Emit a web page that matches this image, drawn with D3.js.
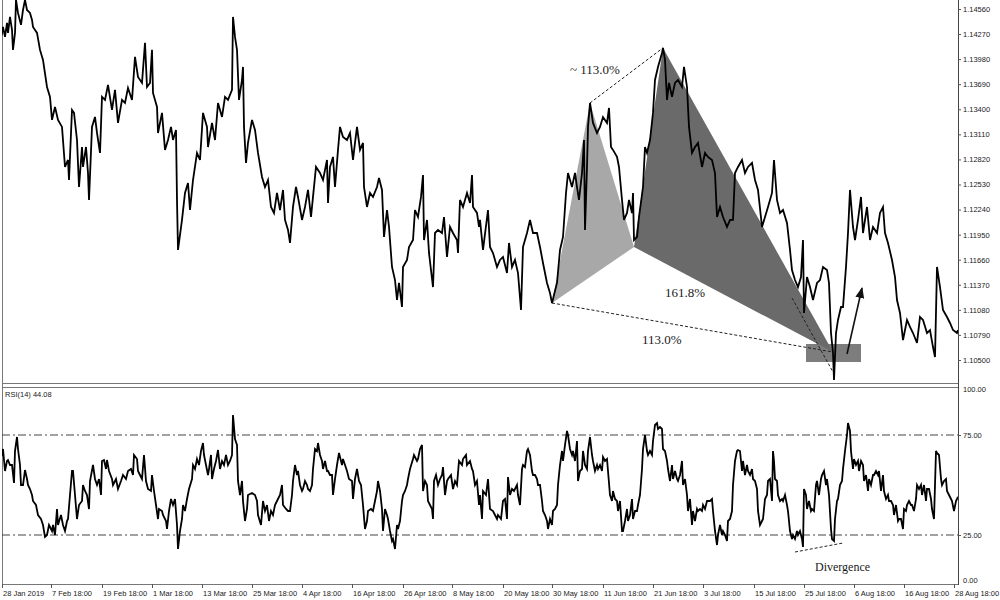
<!DOCTYPE html>
<html><head><meta charset="utf-8">
<script src="https://cdn.jsdelivr.net/npm/d3@7"></script>
<style>
body{margin:0;background:#fff;}
svg{display:block;}
.ax text{font-family:"Liberation Sans",Arial,sans-serif;font-size:7.5px;fill:#1a1a1a;}
.ax line{stroke:#555;}
.ann{font-family:"Liberation Serif","Times New Roman",serif;fill:#1a1a1a;}
</style></head><body>
<svg id="c" width="1000" height="600"></svg>
<script>
// ---------- DATA ----------
const timeTicks = [2,51,102,152,202,252,302,352,403,452,503,552,603,653,703,754,804,854,904,954];
const timeLabels = ["28 Jan 2019","7 Feb 18:00","19 Feb 18:00","1 Mar 18:00","13 Mar 18:00","25 Mar 18:00","4 Apr 18:00","16 Apr 18:00","26 Apr 18:00","8 May 18:00","20 May 18:00","30 May 18:00","11 Jun 18:00","21 Jun 18:00","3 Jul 18:00","15 Jul 18:00","25 Jul 18:00","6 Aug 18:00","16 Aug 18:00","28 Aug 18:00"];
const priceTicks = [1.14560,1.14270,1.13980,1.13690,1.13400,1.13110,1.12820,1.12530,1.12240,1.11950,1.11660,1.11370,1.11080,1.10790,1.10500];
const rsiTicks = [100,75,25,0];
const rsiLevels = [75,25];
const rsiName = "RSI(14) 44.08";

// price series: [time index, close]
const priceSeries = [[0,1.14202],[2,1.14283],[3,1.14353],[5,1.14237],[7,1.14399],[8,1.14283],[10,1.14468],[12,1.14318],[13,1.14087],[15,1.14283],[16,1.14665],[18,1.14515],[21,1.14376],[23,1.14549],[25,1.14665],[27,1.14549],[30,1.14515],[32,1.14434],[33,1.14353],[37,1.14283],[40,1.14087],[43,1.13971],[47,1.13658],[50,1.13543],[52,1.13277],[55,1.13427],[58,1.13277],[62,1.13196],[65,1.12733],[68,1.12814],[69,1.12582],[72,1.13392],[74,1.13358],[77,1.13045],[79,1.12501],[82,1.12964],[83,1.12733],[86,1.12964],[88,1.12663],[89,1.12351],[92,1.13196],[95,1.13311],[97,1.13126],[100,1.12895],[102,1.13543],[105,1.13508],[108,1.13682],[112,1.13392],[115,1.13624],[118,1.13242],[122,1.13508],[125,1.13473],[128,1.13647],[132,1.13508],[135,1.14006],[138,1.13774],[142,1.13705],[145,1.14168],[147,1.13658],[150,1.13705],[152,1.14087],[153,1.13589],[157,1.13427],[158,1.13126],[162,1.13358],[165,1.12930],[168,1.13045],[171,1.13196],[173,1.13045],[176,1.13161],[177,1.12351],[178,1.11773],[182,1.12120],[185,1.12432],[188,1.12548],[190,1.12235],[193,1.12582],[197,1.12895],[200,1.12814],[203,1.13358],[207,1.13196],[208,1.12964],[212,1.13242],[215,1.13045],[218,1.13473],[222,1.13311],[225,1.13543],[228,1.13508],[232,1.13624],[233,1.14468],[235,1.14237],[237,1.14087],[239,1.13508],[242,1.13739],[243,1.13890],[244,1.13196],[246,1.12779],[248,1.13011],[252,1.13277],[255,1.13161],[258,1.12895],[262,1.12617],[265,1.12501],[268,1.12582],[271,1.12270],[274,1.12201],[277,1.12432],[280,1.12235],[283,1.12467],[285,1.12120],[288,1.12004],[290,1.11854],[293,1.12270],[296,1.12501],[298,1.12386],[302,1.12120],[305,1.12270],[308,1.12467],[311,1.12154],[313,1.12386],[316,1.12733],[320,1.12663],[323,1.12582],[327,1.12814],[328,1.12316],[330,1.12733],[333,1.12849],[335,1.12501],[338,1.12930],[340,1.13196],[343,1.13080],[347,1.13045],[350,1.13126],[353,1.12814],[355,1.13011],[357,1.13196],[360,1.12930],[363,1.13011],[364,1.12501],[367,1.12270],[370,1.12432],[373,1.12386],[377,1.12501],[379,1.12606],[382,1.12467],[384,1.11923],[387,1.12235],[389,1.12039],[392,1.11576],[395,1.11425],[397,1.11194],[399,1.11391],[402,1.11113],[403,1.11576],[407,1.11657],[409,1.11807],[413,1.11888],[415,1.12235],[418,1.12154],[421,1.12386],[423,1.12640],[424,1.11888],[427,1.12120],[429,1.11738],[433,1.11344],[435,1.11969],[438,1.12004],[442,1.11969],[444,1.12154],[447,1.11692],[450,1.12039],[453,1.11969],[457,1.11888],[458,1.11738],[460,1.12351],[463,1.12270],[467,1.12432],[470,1.12316],[472,1.12640],[473,1.12270],[477,1.12201],[479,1.12039],
[480,1.12120],[483,1.11773],[488,1.12235],[490,1.11807],[493,1.11738],[497,1.11576],[500,1.11657],[503,1.11692],[507,1.11506],[509,1.11854],[512,1.11576],[515,1.11657],[518,1.11506],[521,1.11078],[523,1.11807],[527,1.11969],[530,1.12120],[533,1.11969],[537,1.11969],[540,1.11807],[543,1.11622],[547,1.11391],[550,1.11275],[552,1.11159],[557,1.11391],[560,1.11773],[563,1.11923],[566,1.12432],[568,1.12663],[572,1.12501],[575,1.12663],[577,1.12501],[579,1.12351],[582,1.12663],[584,1.13045],[585,1.12004],[587,1.12733],[588,1.13196],[590,1.13473],[593,1.13242],[597,1.13126],[600,1.13196],[603,1.13311],[607,1.13242],[609,1.13415],[611,1.12964],[613,1.12930],[617,1.12849],[619,1.12733],[622,1.12351],[624,1.12120],[627,1.12201],[629,1.12351],[632,1.12201],[633,1.12432],[634,1.11888],[637,1.11923],[639,1.12154],[643,1.12501],[645,1.12964],[647,1.12895],[650,1.13045],[653,1.13358],[655,1.13739],[658,1.13890],[662,1.14052],[663,1.14110],[665,1.13971],[667,1.13508],[669,1.13705],[672,1.13543],[675,1.13705],[678,1.13739],[682,1.13658],[684,1.13890],[687,1.13658],[689,1.13196],[692,1.12895],[695,1.12964],[698,1.13011],[702,1.12733],[705,1.12895],[708,1.12849],[712,1.12814],[715,1.12663],[717,1.12154],[720,1.12270],[723,1.12154],[727,1.12039],[730,1.12120],[733,1.12120],[735,1.12663],[738,1.12733],[742,1.12814],[745,1.12663],[748,1.12733],[752,1.12779],[755,1.12582],[758,1.12467],[762,1.12039],[765,1.12154],[768,1.12270],[772,1.12432],[774,1.12814],[777,1.12351],[780,1.12201],[783,1.12235],[787,1.12085],[790,1.11773],[792,1.11541],[795,1.11425],[798,1.11344],[801,1.11460],[803,1.11888],[804,1.11044],[807,1.11460],[810,1.11344],[813,1.11194],[817,1.11391],[820,1.11425],[823,1.11576],[827,1.11541],[829,1.11391],[831,1.10812],[833,1.10581],[834,1.10268],[836,1.10812],[838,1.10963],[841,1.11113],[843,1.11113],[846,1.11576],[848,1.11969],[850,1.12467],[853,1.12039],[855,1.11888],[858,1.12120],[861,1.12386],[863,1.11969],[867,1.12270],[870,1.11888],[873,1.12039],[877,1.11969],[880,1.12201],[883,1.12270],[885,1.11969],[888,1.11854],[892,1.11657],[895,1.11460],[897,1.11194],[900,1.11044],[903,1.10731],[907,1.10963],[910,1.10882],[913,1.10812],[917,1.10697],[920,1.10997],[923,1.10963],[927,1.10812],[930,1.10847],[933,1.10650],[935,1.10535],[937,1.11576],[940,1.11344],[943,1.11078],[947,1.10997],[950,1.10928],[953,1.10847],[957,1.10812],[958,1.10847]];

// RSI(14) series: [time index, value]
const rsiSeries = [[0,64],[2,65],[3,68],[5,57],[7,62],[8,62.5],[10,60],[12,60],[14,51],[15,67],[17,74],[18,68],[20,60],[21,50],[23,50],[25,57.5],[27,53],[28,50],[30,48],[32,45],[33,42],[36,40],[38,35],[41,33],[43,30],[45,24],[47,25],[49,30],[52,27],[53,30],[55,25],[57,38],[58,30],[61,35],[63,30],[65,27],[67,32],[68,33],[70,45],[72,57],[73,57],[75,45],[77,33],[79,40],[82,42],[83,50],[85,47],[87,45],[89,38],[90,52],[93,60],[95,53],[97,50],[99,53],[101,45],[102,62],[104,62.5],[106,58],[107,62.5],[109,57],[112,53],[113,50],[116,53],[118,48],[121,52],[123,55],[126,53],[128,57],[131,58],[133,55],[134,65],[137,63],[138,57],[140,55],[142,53],[144,65],[146,52],[148,48],[151,47],[152,55],[154,47],[156,40],[158,33],[159,38],[162,37],[163,35],[166,32],[167,28],[169,37],[171,43],[173,40],[175,43],[177,30],[178,18],[180,27],[182,33],[183,40],[185,37],[187,43],[189,48],[192,53],[193,60],[195,58],[197,63],[199,60],[201,67],[203,71],[204,65],[206,60],[208,55],[209,58],[211,65],[212,53],[214,58],[216,62],[218,67.5],[220,58],[222,62],[224,60],[226,65],[228,60],[230,62],[232,65],[233,85],[235,73],[237,70],[238,52],[240,45],[242,52],[243,42],[245,32],[247,38],[248,45],[252,46],[255,45],[257,42],[258,35],[261,30],[263,42],[265,37],[267,40],[269,32],[271,37],[273,35],[275,40],[277,42],[280,45],[282,50],[283,40],[286,38],[288,37],[290,37],[292,45],[293,52],[295,60],[297,55],[298,57],[300,50],[302,47],[303,48],[305,52],[307,50],[308,48],[310,47],[312,50],[313,58],[315,68],[317,67],[318,71],[320,65],[322,62],[323,58],[325,62],[327,57],[328,57],[330,55],[332,55],[333,45],[335,53],[337,60],[339,66],[342,60],[343,63],[345,60],[347,57],[349,53],[352,52],[353,43],[355,53],[357,58],[359,52],[361,50],[363,40],[365,28],[367,32],[368,37],[371,38],[373,37],[375,42],[377,47],[378,52],[380,47],[382,38],[383,27],[385,38],[387,35],[388,33],[390,27],[392,22],[393,23],[395,18],[397,30],[398,28],[400,32],[402,42],[403,45],[405,47],[407,50],[408,53],[410,58],[413,63],[414,65],[417,62],[418,63],[420,68],[422,70],[423,47],[425,52],[427,50],[428,42],[430,40],[432,38],[433,33],[434,52],[436,55],[438,50],[440,53],[442,55],[443,59],[445,45],[447,52],[448,53],[451,55],[453,48],[455,52],[457,50],[459,62],[462,60],[463,63],[466,65],[467,60],[470,62],[472,58],[473,57],[475,50],[477,52],[479,40],
[480,45],[482,33],[483,47],[486,45],[488,53],[490,38],[493,37],[495,35],[497,33],[498,35],[501,33],[503,42],[505,43],[507,33],[508,54],[510,45],[512,48],[514,47],[517,50],[518,45],[520,40],[522,58],[523,60],[525,59],[527,67],[528,68],[530,65],[532,57],[533,55],[535,55],[537,53],[538,50],[540,50],[542,42],[543,37],[545,35],[547,32],[548,28],[550,33],[552,30],[553,37],[555,38],[557,40],[558,50],[560,60],[562,67],[563,62],[565,70],[567,77],[568,75],[570,68],[572,65],[573,67],[575,62],[577,72],[578,52],[580,57],[582,58],[583,67],[585,60],[587,58],[588,67],[590,74],[592,65],[593,62],[595,57],[597,60],[598,58],[600,60],[602,57],[603,64],[605,62],[607,63],[608,57],[610,45],[612,42],[613,47],[615,43],[617,42],[618,37],[620,42],[622,27],[623,27],[625,32],[627,38],[628,32],[630,35],[632,43],[633,33],[635,37],[637,37],[638,40],[640,45],[642,58],[643,68],[645,75],[647,67],[648,65],[650,67],[652,65],[653,72],[655,80],[657,81],[658,78],[660,79],[662,78],[663,68],[665,67],[667,62],[668,58],[670,52],[672,60],[673,53],[675,57],[677,53],[678,52],[680,55],[682,62],[683,50],[685,53],[687,45],[688,37],[690,43],[692,30],[693,37],[695,32],[697,38],[698,37],[700,38],[702,37],[703,40],[705,38],[707,42],[710,42],[712,43],[713,37],[715,27],[717,20],[718,25],[720,30],[722,25],[723,27],[725,25],[727,22],[728,32],[730,33],[732,37],[733,50],[735,62],[737,67],[738,67.5],[740,67],[742,57],[743,62],[745,55],[747,60],[748,57],[750,55],[752,58],[753,53],[755,52],[757,48],[758,37],[760,30],[762,32],[763,33],[765,43],[767,45],[768,52],[770,53],[772,42],[773,67],[774,62],[775,53],[777,52],[778,45],[780,42],[782,43],[783,42],[785,45],[787,40],[788,37],[790,27],[792,23],[793,25],[795,23],[797,27],[798,25],[800,27],[802,23],[803,19],[804,48],[806,45],[807,38],[809,42],[811,37],[812,38],[814,37],[816,50],[817,52],[819,45],[821,53],[822,55],[824,57],[826,50],[827,53],[829,45],[831,28],[832,23],[834,22],[835,33],[837,42],[838,43],[840,50],[842,52],[843,58],[845,67],[847,75],[848,81],[850,77],[851,67],[853,58],[854,63],[856,60],[858,62],[859,57],[861,62],[863,60],[864,52],[866,55],[868,47],[869,53],[871,50],[873,55],[874,55],[876,57],[878,55],[879,57],[881,47],[883,55],[884,47],[886,43],[888,45],[889,42],[891,42],[893,40],[894,35],[896,40],[898,32],[899,33],[901,33],[903,28],[904,38],[906,37],[907,40],[909,42],[911,40],[912,40],[914,37],[916,43],[917,50],[919,48],[921,50],[922,45],[924,50],[926,42],[927,48],[929,48],[931,43],[932,38],[934,33],[936,67],[937,66],[939,65],[941,53],[942,50],[944,52],[946,53],[947,47],[949,45],[951,43],[952,42],[954,37],[956,42],[957,43],[958,44.08]];

// harmonic pattern pivots X, A, B, C, D
const pivotNames = ["X","A","B","C","D"];
const pivotTime  = [552, 590, 634, 663, 833];
const pivotPrice = [1.11159, 1.13473, 1.11807, 1.14110, 1.10592];
// reversal zone box, projection leg, arrow
const zoneTime = [806, 861];
const zonePrice = [1.10685, 1.10477];
const legTime = [792, 833];
const legPrice = [1.11217, 1.10361];
const arrowTime = [847, 862];
const arrowPrice = [1.10569, 1.11333];
// ratio labels
const ratioText = ["~ 113.0%", "161.8%", "113.0%"];
const ratioTime = [570, 665, 642];
const ratioPrice = [1.13809, 1.11229, 1.10685];
// RSI divergence
const divTime = [795, 843];
const divRsi = [16.5, 21];
const divText = "Divergence";
const divLabelTime = 815, divLabelRsi = 7;

// ---------- CHART ----------
const svg = d3.select("#c");
const x = d3.scaleLinear().domain([0, 958]).range([0, 958]);
const y = d3.scaleLinear().domain([1.105, 1.1456]).range([360, 9]);
const yr = d3.scaleLinear().domain([0, 100]).range([585, 385]);

const defs = svg.append("defs");
defs.append("clipPath").attr("id","clipMain").append("rect").attr("x",2).attr("y",0).attr("width",956).attr("height",384);
defs.append("clipPath").attr("id","clipRsi").append("rect").attr("x",2).attr("y",388).attr("width",956).attr("height",196);
defs.append("marker").attr("id","arrowHead").attr("viewBox","0 0 10 10").attr("refX",9).attr("refY",5)
  .attr("markerWidth",7).attr("markerHeight",7).attr("orient","auto")
  .append("path").attr("d","M0,1 L10,5 L0,9 Z").attr("fill","#111");

// frames
const frame = svg.append("g").attr("stroke","#777").attr("fill","none").attr("shape-rendering","crispEdges");
frame.append("line").attr("x1",2.5).attr("x2",2.5).attr("y1",0).attr("y2",584);
frame.append("line").attr("x1",2).attr("x2",958).attr("y1",383.5).attr("y2",383.5);
frame.append("line").attr("x1",2).attr("x2",958).attr("y1",387.5).attr("y2",387.5);
frame.append("line").attr("x1",2).attr("x2",958).attr("y1",584.5).attr("y2",584.5);
frame.append("line").attr("x1",958.5).attr("x2",958.5).attr("y1",0).attr("y2",585).attr("stroke","#444");

// main panel
const main = svg.append("g").attr("clip-path","url(#clipMain)");
const P = i => [x(pivotTime[i]), y(pivotPrice[i])];
main.append("rect")
  .attr("x", x(zoneTime[0])).attr("y", y(zonePrice[0]))
  .attr("width", x(zoneTime[1]) - x(zoneTime[0])).attr("height", y(zonePrice[1]) - y(zonePrice[0]))
  .attr("fill", "#7d7d7d");
main.append("path").attr("d", "M" + [P(0),P(1),P(2)].map(p=>p.join(",")).join("L") + "Z").attr("fill","#a8a8a8");
main.append("path").attr("d", "M" + [P(2),P(3),P(4)].map(p=>p.join(",")).join("L") + "Z").attr("fill","#6a6a6a");

const dotted = main.append("g").attr("stroke","#222").attr("stroke-width",1).attr("stroke-dasharray","3,2").attr("fill","none");
dotted.append("line").attr("x1",P(0)[0]).attr("y1",P(0)[1]).attr("x2",P(4)[0]).attr("y2",P(4)[1]);
dotted.append("line").attr("x1",P(1)[0]).attr("y1",P(1)[1]).attr("x2",P(3)[0]).attr("y2",P(3)[1]);
dotted.append("line").attr("x1",x(legTime[0])).attr("y1",y(legPrice[0])).attr("x2",x(legTime[1])).attr("y2",y(legPrice[1]));

const priceLine = d3.line().x(d=>x(d[0])).y(d=>y(d[1]));
main.append("path").datum(priceSeries).attr("d", priceLine)
  .attr("fill","none").attr("stroke","#000").attr("stroke-width",1.8).attr("stroke-linejoin","miter");

main.append("line").attr("x1",x(arrowTime[0])).attr("y1",y(arrowPrice[0]))
  .attr("x2",x(arrowTime[1])).attr("y2",y(arrowPrice[1]))
  .attr("stroke","#111").attr("stroke-width",1.6).attr("marker-end","url(#arrowHead)");

main.selectAll("text.ratio").data(ratioText).join("text").attr("class","ann ratio")
  .attr("x",(d,i)=>x(ratioTime[i])).attr("y",(d,i)=>y(ratioPrice[i]))
  .attr("font-size",13).text(d=>d);

// price axis
const pa = svg.append("g").attr("class","ax").attr("transform","translate(958,0)")
  .call(d3.axisRight(y).tickValues(priceTicks).tickSize(3).tickPadding(2).tickFormat(d3.format(".5f")));
pa.select(".domain").remove();

// RSI panel
const rp = svg.append("g").attr("clip-path","url(#clipRsi)");
rp.selectAll("line.level").data(rsiLevels).join("line").attr("class","level")
  .attr("x1",2).attr("x2",958).attr("y1",d=>yr(d)).attr("y2",d=>yr(d))
  .attr("stroke","#444").attr("stroke-width",1).attr("stroke-dasharray","8,3,2,3");
const rsiLine = d3.line().x(d=>x(d[0])).y(d=>yr(d[1]));
rp.append("path").datum(rsiSeries).attr("d", rsiLine)
  .attr("fill","none").attr("stroke","#000").attr("stroke-width",1.8);
rp.append("line").attr("x1",x(divTime[0])).attr("y1",yr(divRsi[0])).attr("x2",x(divTime[1])).attr("y2",yr(divRsi[1]))
  .attr("stroke","#222").attr("stroke-dasharray","3,2");
rp.append("text").attr("class","ann").attr("x",x(divLabelTime)).attr("y",yr(divLabelRsi)).attr("font-size",12).text(divText);

svg.append("text").attr("class","ax").attr("x",5).attr("y",397)
  .attr("font-family","Liberation Sans, Arial, sans-serif").attr("font-size",7.5).attr("fill","#222").text(rsiName);

const ra = svg.append("g").attr("class","ax").attr("transform","translate(958,0)")
  .call(d3.axisRight(yr).tickValues(rsiTicks).tickSize(3).tickPadding(2).tickFormat(d3.format(".2f")));
ra.select(".domain").remove();
ra.selectAll(".tick").filter(d=>d===100).select("text").attr("dy","0.9em");
ra.selectAll(".tick").filter(d=>d===0).select("text").attr("dy","-0.4em");
ra.selectAll(".tick").filter(d=>d===100||d===0).select("line").remove();

// time axis
const labelOf = {}; timeTicks.forEach((t,i)=>labelOf[t]=timeLabels[i]);
const ta = svg.append("g").attr("class","ax").attr("transform","translate(0,584)")
  .call(d3.axisBottom(x).tickValues(timeTicks).tickSize(4).tickPadding(3).tickFormat(d=>labelOf[d]));
ta.select(".domain").remove();
ta.selectAll(".tick text").attr("text-anchor","start").attr("x",0.5);
</script>
</body></html>
